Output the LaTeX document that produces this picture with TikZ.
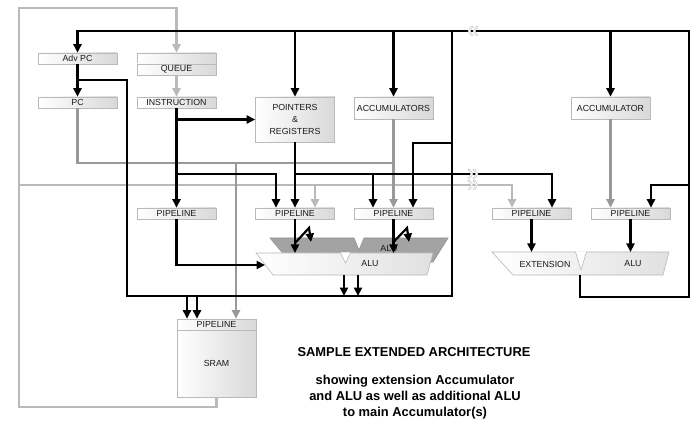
\documentclass[tikz,border=0pt]{standalone}
\usepackage{fontspec}
\setmainfont{Liberation Sans}
\usetikzlibrary{arrows.meta,calc}
\begin{document}
\begin{tikzpicture}[x=1pt,y=-1pt,line join=miter,
  lbl/.style={font=\fontsize{8.8}{11.5}\selectfont,text=black!90,inner sep=0pt},
  box/.style={lbl,draw=gray!55,line width=0.6pt,left color=white,right color=gray!30},
  pipe/.style={box,minimum width=79pt,minimum height=11pt},
  bl/.style={draw=black,line width=2.2pt},
  blarr/.style={bl,-{Triangle[length=8.5pt,width=8pt]}},
  mg/.style={draw=gray!80,line width=2.2pt},
  mgarr/.style={mg,-{Triangle[length=8.5pt,width=8pt]}},
  lg/.style={draw=gray!55,line width=2.2pt},
  lgarr/.style={lg,-{Triangle[length=8.5pt,width=8pt]}},
  frontalu/.style={draw=gray!55,line width=0.6pt,left color=white,right color=gray!24},
  backalu/.style={draw=gray!85,line width=0.6pt,fill=gray!72},
  chev/.style={draw=gray!45,fill=white,line width=0.5pt},
  title/.style={font=\bfseries\fontsize{12.9}{16}\selectfont,text=black,align=center}]
\fill[white] (0,0) rectangle (700,435);
\path[use as bounding box] (0,0) rectangle (700,435);

% ---------- boxes ----------
\node[pipe] (advpc) at (77.5,58.5) {Adv PC};
\node[pipe] (queueslot) at (176.5,58.5) {};
\node[pipe] (queue) at (176.5,69.5) {QUEUE};
\node[pipe] (pc) at (77.5,102.5) {PC};
\node[pipe] (instr) at (176.5,102.5) {INSTRUCTION};
\node[box,minimum width=79pt,minimum height=45pt,align=center] (pr) at (295,119.5) {POINTERS\\[0.3pt]\&\\[0.3pt]REGISTERS};
\node[box,minimum width=79pt,minimum height=22pt] (accs) at (393.5,108) {ACCUMULATORS};
\node[box,minimum width=79pt,minimum height=22pt] (acc) at (610.5,108) {ACCUMULATOR};
\node[pipe] (pipe1) at (176.5,213.5) {PIPELINE};
\node[pipe] (pipe2) at (295,213.5) {PIPELINE};
\node[pipe] (pipe3) at (393.5,213.5) {PIPELINE};
\node[pipe] (pipe4) at (531.5,213.5) {PIPELINE};
\node[pipe] (pipe5) at (630.5,213.5) {PIPELINE};
\node[box,minimum width=79pt,minimum height=67pt] (sram) at (216.5,363.5) {SRAM};
\node[pipe] (sramp) at (216.5,324.5) {PIPELINE};

% ---------- ALU shapes ----------
\draw[backalu] (270,238) -- (354,238) -- (359,250) -- (364,238) -- (448,238) -- (433,262) -- (290,262) -- cycle;
\node[lbl] (backlbl) at (389,249) {ALU};
\draw[frontalu] (256,253) -- (433,253) -- (427,275) -- (273,275) -- cycle;
\fill[white] (340.5,252.3) -- (345.5,263) -- (350.5,252.3) -- cycle;
\draw[draw=gray!55,line width=0.6pt] (340.5,253) -- (345.5,263) -- (350.5,253);
\node[lbl] (alu) at (370,264) {ALU};
\draw[frontalu] (492,252) -- (669,252) -- (663,275) -- (513,275) -- cycle;
\fill[white] (575.5,251.3) -- (581,270) -- (586.5,251.3) -- cycle;
\draw[draw=gray!55,line width=0.6pt] (575.5,252) -- (581,270) -- (586.5,252);
\node[lbl] (ext) at (545,264) {EXTENSION};
\node[lbl] (alu2) at (633,264) {ALU};

% ---------- named points ----------
\coordinate (aluL) at (265,265);
\coordinate (aluT2) at (295,253);
\coordinate (aluT3) at (393.5,253);
\coordinate (aluO1) at (344,275);
\coordinate (aluO2) at (358,275);
\coordinate (extT) at (531.5,252);
\coordinate (alu2T) at (630.5,252);
\coordinate (extO) at (580,275);
\coordinate (p2a) at ($(pipe2.north)+(-19,0)$);
\coordinate (p2c) at ($(pipe2.north)+(20,0)$);
\coordinate (p3a) at ($(pipe3.north)+(-20.5,0)$);
\coordinate (p3c) at ($(pipe3.north)+(19.5,0)$);
\coordinate (p4a) at ($(pipe4.north)+(-19.5,0)$);
\coordinate (p4c) at ($(pipe4.north)+(20.5,0)$);
\coordinate (p5a) at ($(pipe5.north)+(-20,0)$);
\coordinate (p5c) at ($(pipe5.north)+(20.5,0)$);
\coordinate (sa) at ($(sramp.north)+(-29.5,0)$);
\coordinate (sb) at ($(sramp.north)+(-19.5,0)$);
\coordinate (sc) at ($(sramp.north)+(19.5,0)$);
\coordinate (topbus) at (78,31);
\coordinate (rightbus) at (689,31);
\coordinate (lowbus) at (127,296);
\coordinate (midv) at (452,31);
\coordinate (grayloop) at (19,8);
\coordinate (graybus) at (19,185);
\coordinate (pcbus) at (78,163);
\coordinate (prbus) at (295,174);
\coordinate (insbus) at (177,174);

% ---------- gray connectors ----------
\draw[lgarr] (sram.south) -- ++(0,10) -| (grayloop) -| (queueslot.north);
\draw[lgarr] (queue.south) -- (instr.north);
\draw[lgarr] (graybus) -| (p4a);
\draw[lgarr] (graybus -| p2c) -- (p2c);
\draw[mg] (pc.south) |- (accs.south |- pcbus);
\draw[mgarr] (pcbus -| sc) -- (sc);
\draw[mgarr] (accs.south) -- (pipe3.north);
\draw[mgarr] (acc.south) -- (p5a);

% ---------- black connectors ----------
\draw[blarr] (extO) -- ++(0,22) -| (rightbus) -| (advpc.north);
\draw[blarr] (pr.north |- topbus) -- (pr.north);
\draw[blarr] (accs.north |- topbus) -- (accs.north);
\draw[blarr] (acc.north |- topbus) -- (acc.north);
\draw[blarr] (advpc.south) -- (pc.north);
\draw[bl] (advpc.south |- 0,80) -| (lowbus) -| (midv);
\draw[blarr] (midv |- 0,143) -| (p3c);
\draw[blarr] (rightbus |- graybus) -| (p5c);
\draw[blarr] (lowbus -| sa) -- (sa);
\draw[blarr] (lowbus -| sb) -- (sb);
\draw[blarr] (instr.south) -- (pipe1.north);
\draw[blarr] (instr.south |- pr.west) -- (pr.west);
\draw[blarr] (insbus) -| (p2a);
\draw[blarr] (pr.south) -- (pipe2.north);
\draw[blarr] (prbus) -| (p4c);
\draw[blarr] (prbus -| p3a) -- (p3a);
\draw[blarr] (pipe1.south) |- (aluL);
\draw[blarr] (pipe2.south) -- (aluT2);
\draw[blarr] (295,243) -- (309,228) -- (311,242);
\draw[blarr] (pipe3.south) -- (aluT3);
\draw[blarr] (393.5,242) -- (407,228) -- (409,242);
\draw[blarr] (aluO1) -- (aluO1 |- lowbus);
\draw[blarr] (aluO2) -- (aluO2 |- lowbus);
\draw[blarr] (pipe4.south) -- (extT);
\draw[blarr] (pipe5.south) -- (alu2T);

% ---------- chevrons ----------
\foreach \cx in {468,473}{
  \draw[chev] (\cx+5,26.5) -- (\cx+3,26.5) -- (\cx,31) -- (\cx+3,35.5) -- (\cx+5,35.5) -- (\cx+2,31) -- cycle;
  \draw[chev] (\cx,169.5) -- (\cx+2,169.5) -- (\cx+5,174) -- (\cx+2,178.5) -- (\cx,178.5) -- (\cx+3,174) -- cycle;
  \draw[chev] (\cx,180.5) -- (\cx+2,180.5) -- (\cx+5,185) -- (\cx+2,189.5) -- (\cx,189.5) -- (\cx+3,185) -- cycle;
}

% ---------- texts ----------
\node[title] (ttl) at (414,352) {SAMPLE EXTENDED ARCHITECTURE};
\node[title] (sub) at (415,397) {showing extension Accumulator\\and ALU as well as additional ALU\\to main Accumulator(s)};
\end{tikzpicture}
\end{document}
